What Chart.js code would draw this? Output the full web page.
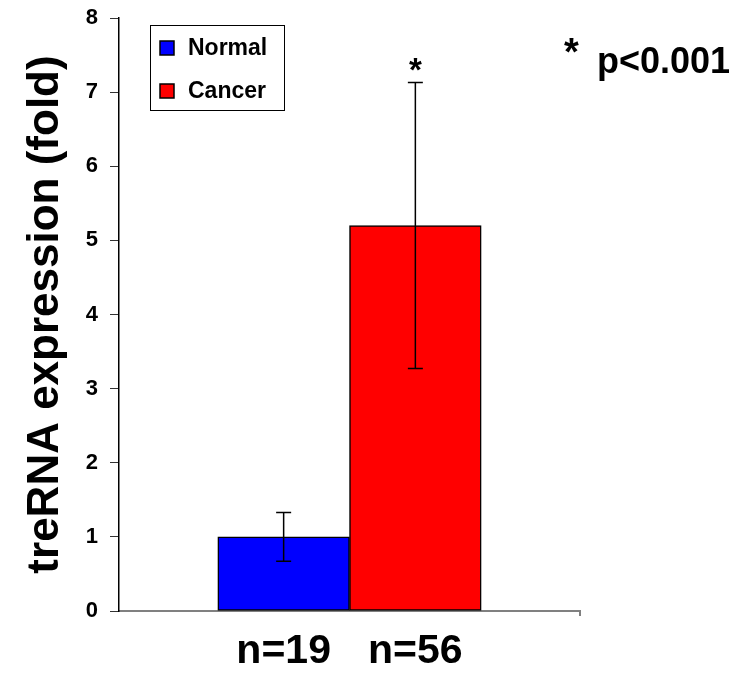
<!DOCTYPE html>
<html>
<head>
<meta charset="utf-8">
<script src="https://cdn.jsdelivr.net/npm/chart.js@4/dist/chart.umd.min.js"></script>
<style>
  html, body { margin: 0; padding: 0; background: #fff; }
  #wrap { width: 737px; height: 673px; position: relative; }
</style>
</head>
<body>
<div id="wrap"><canvas id="c"></canvas></div>
<script>
// ---- data ----
const groups = ['Normal', 'Cancer'];
const sampleLabels = ['n=19', 'n=56'];
const means = [1.0, 5.2];
const errLow = [0.67, 3.27];
const errHigh = [1.33, 7.13];
const significant = [false, true];
const barColors = ['#0000FF', '#FF0000'];
const yMin = 0, yMax = 8, yStep = 1;
const yTitle = 'treRNA expression (fold)';
const pNote = 'p<0.001';

const FONT = "'Liberation Sans', Arial, Helvetica, sans-serif";

const datasets = groups.map((g, i) => ({
  label: g,
  data: [{ x: i + 1, y: means[i] }],
  backgroundColor: barColors[i],
  borderColor: '#000',
  borderWidth: 1.5,
  borderSkipped: false,
  grouped: false,
  barPercentage: 1,
  categoryPercentage: 1
}));

const overlay = {
  id: 'overlay',
  afterDatasetsDraw(chart) {
    const ctx = chart.ctx;
    const ys = chart.scales.y;
    const area = chart.chartArea;
    ctx.save();
    // error bars
    ctx.strokeStyle = '#000';
    ctx.lineWidth = 1.5;
    groups.forEach((g, i) => {
      const bar = chart.getDatasetMeta(i).data[0];
      const x = bar.x;
      const yl = ys.getPixelForValue(errLow[i]);
      const yh = ys.getPixelForValue(errHigh[i]);
      ctx.beginPath();
      ctx.moveTo(x, yl); ctx.lineTo(x, yh);
      ctx.moveTo(x - 7.5, yl); ctx.lineTo(x + 7.5, yl);
      ctx.moveTo(x - 7.5, yh); ctx.lineTo(x + 7.5, yh);
      ctx.stroke();
      if (significant[i]) {
        ctx.fillStyle = '#000';
        ctx.font = 'bold 33px ' + FONT;
        ctx.textAlign = 'center';
        ctx.textBaseline = 'alphabetic';
        ctx.fillText('*', x, yh - 1);
      }
    });
    // end tick of x axis
    ctx.strokeStyle = '#808080';
    ctx.lineWidth = 2;
    ctx.beginPath();
    ctx.moveTo(area.right, area.bottom);
    ctx.lineTo(area.right, area.bottom + 5);
    ctx.stroke();
    // significance note
    ctx.fillStyle = '#000';
    ctx.textAlign = 'left';
    ctx.textBaseline = 'alphabetic';
    ctx.font = 'bold 38px ' + FONT;
    ctx.fillText('*', 564, 65);
    ctx.font = 'bold 36px ' + FONT;
    ctx.fillText(pNote, 597, 73);
    // legend
    const lx = 150, ly = 25, lw = 134, lh = 85;
    ctx.fillStyle = '#fff';
    ctx.fillRect(lx, ly, lw, lh);
    ctx.strokeStyle = '#000';
    ctx.lineWidth = 1;
    ctx.strokeRect(lx + 0.5, ly + 0.5, lw, lh);
    const rowY = [48, 91];
    chart.data.datasets.forEach((ds, i) => {
      ctx.fillStyle = ds.backgroundColor;
      ctx.fillRect(160, rowY[i] - 7, 14, 14);
      ctx.strokeStyle = '#000';
      ctx.lineWidth = 1.5;
      ctx.strokeRect(160, rowY[i] - 7, 14, 14);
      ctx.fillStyle = '#000';
      ctx.font = 'bold 23px ' + FONT;
      ctx.textAlign = 'left';
      ctx.textBaseline = 'middle';
      ctx.fillText(ds.label, 188, rowY[i] + 1);
    });
    ctx.restore();
  }
};

new Chart(document.getElementById('c'), {
  type: 'bar',
  data: { datasets },
  options: {
    responsive: true,
    maintainAspectRatio: false,
    animation: false,
    layout: { padding: { left: 19, top: 18, right: 157, bottom: 0 } },
    plugins: {
      legend: { display: false },
      tooltip: { enabled: false }
    },
    scales: {
      x: {
        type: 'linear',
        min: 0.5 - 0.75,
        max: groups.length + 0.5 + 0.75,
        offset: false,
        afterBuildTicks(scale) {
          scale.ticks = sampleLabels.map((s, i) => ({ value: i + 1 }));
        },
        afterFit(scale) { scale.height = 62; scale.paddingLeft = 0; scale.paddingRight = 0; },
        grid: { display: false, drawTicks: true, tickLength: 8 },
        border: { display: true, color: '#808080', width: 2 },
        ticks: {
          color: '#000',
          padding: 8,
          maxRotation: 0,
          autoSkip: false,
          font: { family: FONT, size: 41, weight: 'bold' },
          callback: (v) => sampleLabels[Math.round(v) - 1] || ''
        }
      },
      y: {
        min: yMin,
        max: yMax,
        afterFit(scale) { scale.width = 100; scale.paddingTop = 0; scale.paddingBottom = 0; },
        grid: { display: true, drawOnChartArea: false, drawTicks: true, tickLength: 9, color: '#333', lineWidth: 1 },
        border: { display: true, color: '#000', width: 1.5 },
        ticks: {
          stepSize: yStep,
          color: '#000',
          padding: 12,
          font: { family: FONT, size: 22, weight: 'bold' }
        },
        title: {
          display: true,
          text: yTitle,
          color: '#000',
          padding: { top: 0, bottom: 0 },
          font: { family: FONT, size: 44, weight: 'bold' }
        }
      }
    }
  },
  plugins: [overlay]
});
</script>
</body>
</html>
